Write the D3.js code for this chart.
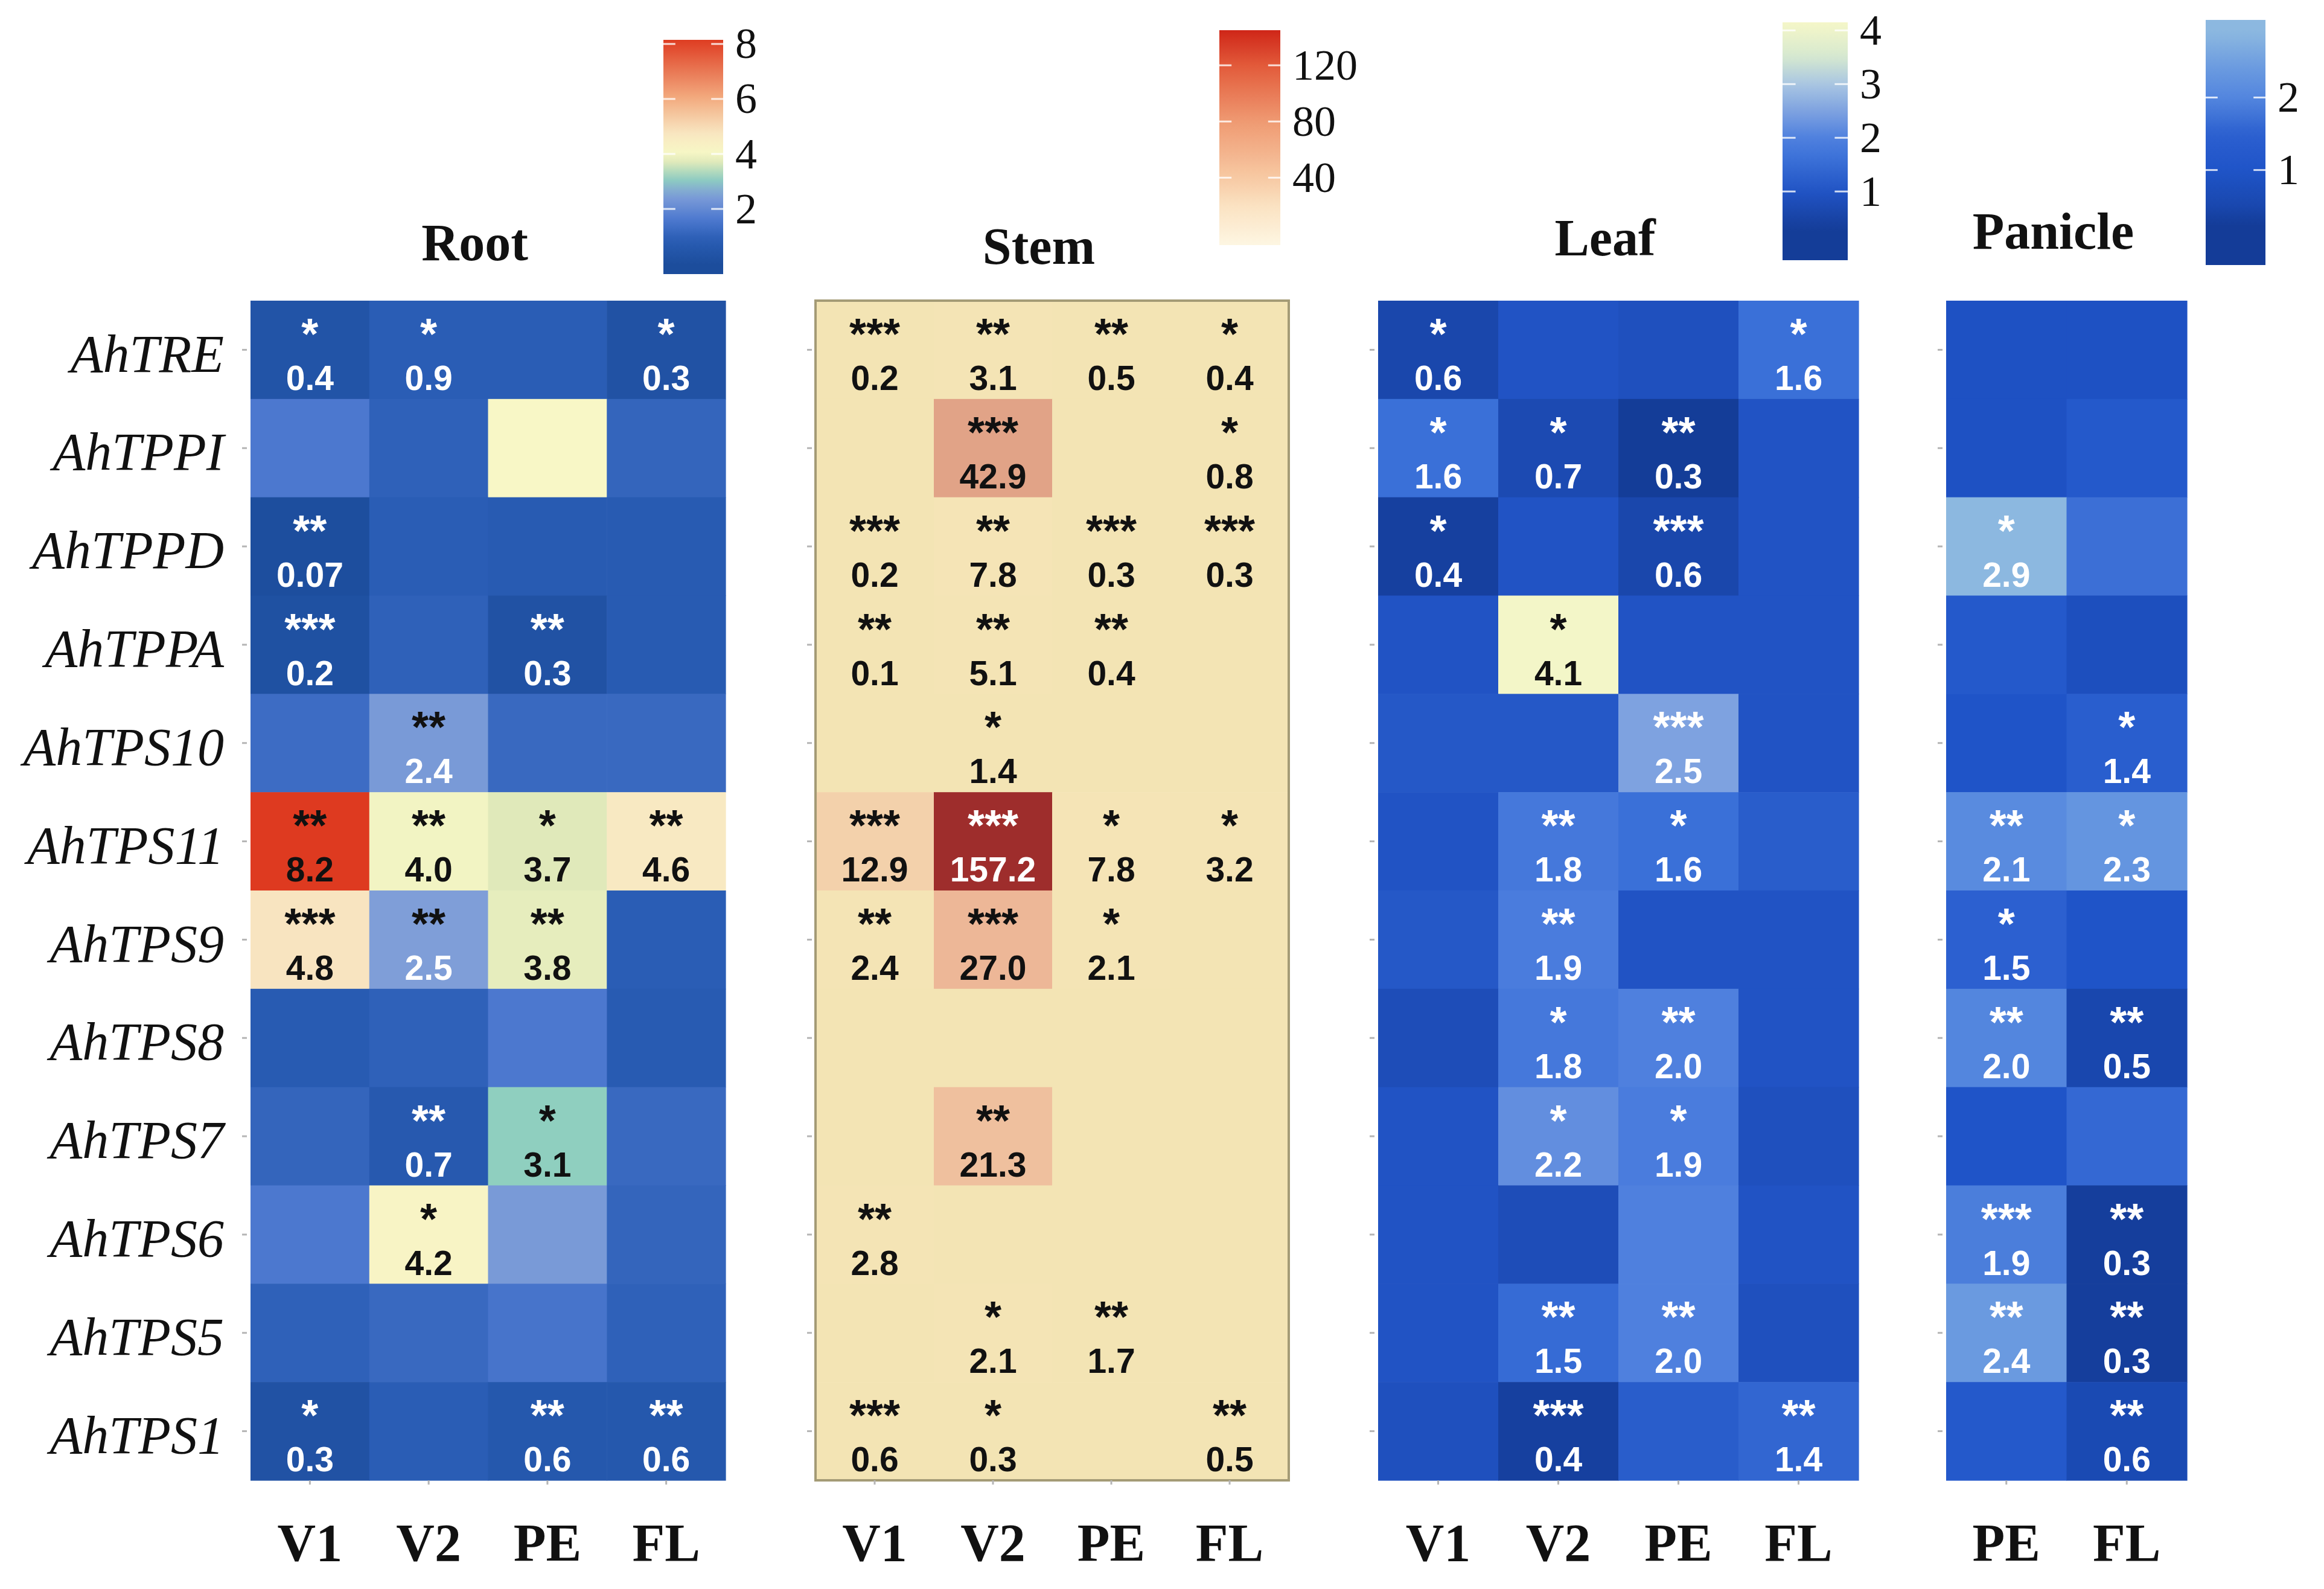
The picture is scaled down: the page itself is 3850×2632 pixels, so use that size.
<!DOCTYPE html>
<html>
<head>
<meta charset="utf-8">
<script src="https://cdn.jsdelivr.net/npm/d3@7"></script>
<style>
  body { margin: 0; background: #fff; }
</style>
</head>
<body>
<svg id="chart" width="3850" height="2632"></svg>
<script>
// genes (rows) and sampling stages (columns)
var genes = ["AhTRE", "AhTPPI", "AhTPPD", "AhTPPA", "AhTPS10", "AhTPS11", "AhTPS9", "AhTPS8", "AhTPS7", "AhTPS6", "AhTPS5", "AhTPS1"];
var stages4 = ["V1", "V2", "PE", "FL"];
var stages2 = ["PE", "FL"];

// fold change, one row per gene
var rootValues = [
  [0.4, 0.9, 0.9, 0.3],
  [1.6, 1.0, 4.1, 1.1],
  [0.07, 0.9, 0.8, 0.8],
  [0.2, 1.0, 0.3, 0.8],
  [1.3, 2.4, 1.2, 1.2],
  [8.2, 4.0, 3.7, 4.6],
  [4.8, 2.5, 3.8, 0.9],
  [0.8, 1.0, 1.6, 0.8],
  [1.1, 0.7, 3.1, 1.2],
  [1.6, 4.2, 2.4, 1.1],
  [1.0, 1.2, 1.5, 1.0],
  [0.3, 0.9, 0.6, 0.6]
];
var rootStars = [
  ["*", "*", "", "*"],
  ["", "", "", ""],
  ["**", "", "", ""],
  ["***", "", "**", ""],
  ["", "**", "", ""],
  ["**", "**", "*", "**"],
  ["***", "**", "**", ""],
  ["", "", "", ""],
  ["", "**", "*", ""],
  ["", "*", "", ""],
  ["", "", "", ""],
  ["*", "", "**", "**"]
];

var stemValues = [
  [0.2, 3.1, 0.5, 0.4],
  [1.0, 42.9, 1.0, 0.8],
  [0.2, 7.8, 0.3, 0.3],
  [0.1, 5.1, 0.4, 1.0],
  [1.0, 1.4, 1.0, 1.0],
  [12.9, 157.2, 7.8, 3.2],
  [2.4, 27.0, 2.1, 1.0],
  [1.0, 1.0, 1.0, 1.0],
  [1.0, 21.3, 1.0, 1.0],
  [2.8, 1.0, 1.0, 1.0],
  [1.0, 2.1, 1.7, 1.0],
  [0.6, 0.3, 1.0, 0.5]
];
var stemStars = [
  ["***", "**", "**", "*"],
  ["", "***", "", "*"],
  ["***", "**", "***", "***"],
  ["**", "**", "**", ""],
  ["", "*", "", ""],
  ["***", "***", "*", "*"],
  ["**", "***", "*", ""],
  ["", "", "", ""],
  ["", "**", "", ""],
  ["**", "", "", ""],
  ["", "*", "**", ""],
  ["***", "*", "", "**"]
];

var leafValues = [
  [0.6, 1.0, 0.9, 1.6],
  [1.6, 0.7, 0.3, 1.0],
  [0.4, 1.0, 0.6, 1.0],
  [1.0, 4.1, 1.0, 1.0],
  [1.1, 1.1, 2.5, 1.0],
  [1.0, 1.8, 1.6, 1.2],
  [1.1, 1.9, 1.0, 1.0],
  [0.8, 1.8, 2.0, 1.0],
  [1.0, 2.2, 1.9, 0.9],
  [1.0, 0.8, 2.0, 1.0],
  [1.0, 1.5, 2.0, 0.9],
  [0.9, 0.4, 1.2, 1.4]
];
var leafStars = [
  ["*", "", "", "*"],
  ["*", "*", "**", ""],
  ["*", "", "***", ""],
  ["", "*", "", ""],
  ["", "", "***", ""],
  ["", "**", "*", ""],
  ["", "**", "", ""],
  ["", "*", "**", ""],
  ["", "*", "*", ""],
  ["", "", "", ""],
  ["", "**", "**", ""],
  ["", "***", "", "**"]
];

var panicleValues = [
  [0.9, 0.9],
  [0.9, 1.2],
  [2.9, 1.7],
  [1.2, 0.8],
  [1.0, 1.4],
  [2.1, 2.3],
  [1.5, 1.0],
  [2.0, 0.5],
  [1.0, 1.6],
  [1.9, 0.3],
  [2.4, 0.3],
  [1.2, 0.6]
];
var panicleStars = [
  ["", ""],
  ["", ""],
  ["*", ""],
  ["", ""],
  ["", "*"],
  ["**", "*"],
  ["*", ""],
  ["**", "**"],
  ["", ""],
  ["***", "**"],
  ["**", "**"],
  ["", "**"]
];

// colour bar ticks
var rootTicks = [2, 4, 6, 8];
var stemTicks = [40, 80, 120];
var leafTicks = [1, 2, 3, 4];
var panicleTicks = [1, 2];

var svg = d3.select("#chart");
var serif = "'Liberation Serif', 'Times New Roman', serif";
var sans = "'Liberation Sans', Arial, sans-serif";

var y = d3.scaleBand().domain(genes).range([498, 2452]);

var panels = [
  {
    title: "Root", titleY: 431, stages: stages4, values: rootValues, stars: rootStars, ticks: rootTicks,
    x0: 415, x1: 1202, showGenes: true,
    stops: [[0, "#1c4d9c"], [0.9, "#2a5db5"], [1.6, "#4c78cf"], [2.5, "#7f9ed8"], [3.1, "#8fcfbf"],
            [3.7, "#e0e9ba"], [4.1, "#f8f7c6"], [4.8, "#f8e4c0"], [6, "#f3ac80"], [8.2, "#de3a20"]],
    bar: { x: 1099, w: 99, y0: 66, y1: 454, domain: [-0.37, 8.15] },
    dark: function (v, star) { return star ? v > 2.3 : v > 2.9; }
  },
  {
    title: "Stem", titleY: 437, stages: stages4, values: stemValues, stars: stemStars, ticks: stemTicks,
    x0: 1351, x1: 2135, frame: true,
    stops: [[0, "#f3e4b4"], [8, "#f5e4b6"], [14, "#f2cda8"], [25, "#eeb999"], [45, "#dfa085"], [160, "#9c2a2a"]],
    barStops: [[-8, "#fdf6e2"], [20, "#fbe2c2"], [40, "#f7c9a3"], [80, "#ef9a72"], [120, "#e25a3a"], [145, "#cf2618"]],
    bar: { x: 2020, w: 101, y0: 50, y1: 406, domain: [-8, 145] },
    dark: function (v) { return v < 100; }
  },
  {
    title: "Leaf", titleY: 423, stages: stages4, values: leafValues, stars: leafStars, ticks: leafTicks,
    x0: 2283, x1: 3079,
    stops: [[0.3, "#143d98"], [0.6, "#1a47ac"], [1.0, "#2153c4"], [1.6, "#3a70d8"], [2.0, "#4f80de"],
            [2.5, "#7ea2e0"], [3.0, "#a9c6e2"], [3.5, "#d5e8d0"], [4.12, "#f4f6c8"]],
    bar: { x: 2953, w: 108, y0: 37, y1: 431, domain: [-0.28, 4.15] },
    dark: function (v) { return v > 3.5; }
  },
  {
    title: "Panicle", titleY: 412, stages: stages2, values: panicleValues, stars: panicleStars, ticks: panicleTicks,
    x0: 3224, x1: 3623,
    stops: [[0.26, "#143c98"], [0.5, "#1947ae"], [1.0, "#1f54c8"], [1.5, "#2c60d0"], [2.0, "#5386de"],
            [2.4, "#6a9ae0"], [2.9, "#8cb8e0"]],
    bar: { x: 3654, w: 99, y0: 33, y1: 439, domain: [-0.31, 3.07] },
    dark: function () { return false; }
  }
];

function fmt(v) { return v < 0.1 ? v.toFixed(2) : v.toFixed(1); }

panels.forEach(function (p, pi) {
  var x = d3.scaleBand().domain(p.stages).range([p.x0, p.x1]);
  var color = d3.scaleLinear()
    .domain(p.stops.map(function (s) { return s[0]; }))
    .range(p.stops.map(function (s) { return s[1]; }))
    .clamp(true);
  var bs = p.barStops || p.stops;
  var barColor = d3.scaleLinear()
    .domain(bs.map(function (s) { return s[0]; }))
    .range(bs.map(function (s) { return s[1]; }))
    .clamp(true);

  var cells = [];
  p.values.forEach(function (row, i) {
    row.forEach(function (v, j) {
      cells.push({ gene: genes[i], stage: p.stages[j], v: v, stars: p.stars[i][j] });
    });
  });

  var g = svg.append("g");

  g.selectAll(".cell")
    .data(cells)
    .enter().append("rect")
    .attr("class", "cell")
    .attr("x", function (d) { return x(d.stage); })
    .attr("y", function (d) { return y(d.gene); })
    .attr("width", x.bandwidth() + 0.6)
    .attr("height", y.bandwidth() + 0.6)
    .attr("fill", function (d) { return color(d.v); });

  if (p.frame) {
    g.append("rect")
      .attr("x", p.x0).attr("y", y.range()[0])
      .attr("width", p.x1 - p.x0).attr("height", y.range()[1] - y.range()[0])
      .attr("fill", "none")
      .attr("stroke", "#a49b76")
      .attr("stroke-width", 4);
  }

  var marked = cells.filter(function (d) { return d.stars !== ""; });

  // significance stars
  g.selectAll(".stars")
    .data(marked)
    .enter().append("text")
    .attr("class", "stars")
    .attr("x", function (d) { return x(d.stage) + x.bandwidth() / 2; })
    .attr("y", function (d) { return y(d.gene) + 80; })
    .attr("text-anchor", "middle")
    .attr("font-family", sans)
    .attr("font-weight", "bold")
    .attr("font-size", "72px")
    .attr("fill", function (d) { return p.dark(d.v, true) ? "#111" : "#fff"; })
    .text(function (d) { return d.stars; });

  // fold-change values
  g.selectAll(".val")
    .data(marked)
    .enter().append("text")
    .attr("class", "val")
    .attr("x", function (d) { return x(d.stage) + x.bandwidth() / 2; })
    .attr("y", function (d) { return y(d.gene) + 148; })
    .attr("text-anchor", "middle")
    .attr("font-family", sans)
    .attr("font-weight", "bold")
    .attr("font-size", "57px")
    .attr("fill", function (d) { return p.dark(d.v, false) ? "#111" : "#fff"; })
    .text(function (d) { return fmt(d.v); });

  // left axis (gene names only on the first panel)
  var yAxis = g.append("g")
    .attr("transform", "translate(" + (p.x0 - 6) + ",0)")
    .call(d3.axisLeft(y).tickSize(8).tickPadding(30)
      .tickFormat(p.showGenes ? null : function () { return ""; }));
  yAxis.select(".domain").remove();
  yAxis.selectAll("line").attr("stroke", "#b5b5b5").attr("stroke-width", 3);
  yAxis.selectAll("text")
    .attr("dy", "0.41em")
    .attr("font-family", serif)
    .attr("font-style", "italic")
    .attr("font-size", "88px")
    .attr("fill", "#111");

  // bottom axis with stages
  var xAxis = g.append("g")
    .attr("transform", "translate(0," + y.range()[1] + ")")
    .call(d3.axisBottom(x).tickSize(7).tickPadding(64));
  xAxis.select(".domain").remove();
  xAxis.selectAll("line").attr("stroke", "#b5b5b5").attr("stroke-width", 3);
  xAxis.selectAll("text")
    .attr("font-family", serif)
    .attr("font-weight", "bold")
    .attr("font-size", "88px")
    .attr("fill", "#111");

  // panel title
  g.append("text")
    .attr("x", (p.x0 + p.x1) / 2 - 22)
    .attr("y", p.titleY)
    .attr("text-anchor", "middle")
    .attr("font-family", serif)
    .attr("font-weight", "bold")
    .attr("font-size", "86px")
    .attr("fill", "#111")
    .text(p.title);

  // colour bar
  var b = p.bar;
  var by = d3.scaleLinear().domain(b.domain).range([b.y1, b.y0]);
  var gid = "grad" + pi;
  var grad = svg.append("defs").append("linearGradient")
    .attr("id", gid)
    .attr("x1", 0).attr("y1", 1).attr("x2", 0).attr("y2", 0);
  d3.range(0, 1.0001, 0.04).forEach(function (t) {
    var v = b.domain[0] + t * (b.domain[1] - b.domain[0]);
    grad.append("stop").attr("offset", t).attr("stop-color", barColor(v));
  });
  g.append("rect")
    .attr("x", b.x).attr("y", b.y0)
    .attr("width", b.w).attr("height", b.y1 - b.y0)
    .attr("fill", "url(#" + gid + ")");

  // white tick dashes inside the bar
  g.selectAll(".bartickL")
    .data(p.ticks)
    .enter().append("line")
    .attr("x1", b.x).attr("x2", b.x + b.w * 0.2)
    .attr("y1", function (d) { return by(d); })
    .attr("y2", function (d) { return by(d); })
    .attr("stroke", "#fff").attr("stroke-opacity", 0.8).attr("stroke-width", 3);
  g.selectAll(".bartickR")
    .data(p.ticks)
    .enter().append("line")
    .attr("x1", b.x + b.w * 0.8).attr("x2", b.x + b.w)
    .attr("y1", function (d) { return by(d); })
    .attr("y2", function (d) { return by(d); })
    .attr("stroke", "#fff").attr("stroke-opacity", 0.8).attr("stroke-width", 3);

  var barAxis = g.append("g")
    .attr("transform", "translate(" + (b.x + b.w) + ",0)")
    .call(d3.axisRight(by).tickValues(p.ticks).tickSize(0).tickPadding(20).tickFormat(d3.format("d")));
  barAxis.select(".domain").remove();
  barAxis.selectAll("text")
    .attr("font-family", serif)
    .attr("font-size", "72px")
    .attr("fill", "#111");
});
</script>
</body>
</html>
